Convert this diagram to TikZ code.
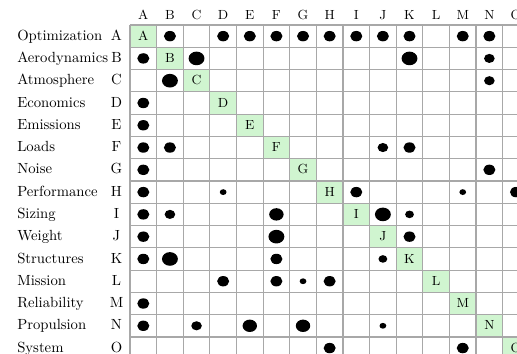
\documentclass[tikz,border=0pt]{standalone}

\definecolor{diagfill}{RGB}{208,245,208}
\definecolor{gridgray}{RGB}{168,168,168}

\tikzset{
  gridline/.style={draw=gridgray, line width=0.8pt},
  rowname/.style={anchor=west, inner sep=0pt, text height=1.6ex, text depth=0.3ex},
  rowletter/.style={inner sep=0pt, text height=1.6ex, text depth=0.3ex},
  colletter/.style={font=\small, inner sep=0pt, text height=1.6ex, text depth=0.3ex},
  diagletter/.style={font=\small, inner sep=0pt, text height=1.6ex, text depth=0.3ex},
}

\begin{document}
\begin{tikzpicture}[x={(0.6362cm,0cm)}, y={(0cm,-0.5325cm)}]

\useasboundingbox (-4.8835,-1.1221) rectangle (14.538,14.766);
\clip (-4.8835,-1.1221) rectangle (14.538,14.766);

% Diagonal cells
\foreach \i in {0,...,14}
{
\fill[diagfill] (\i,\i) rectangle (\i+1,\i+1);
}

% Grid
\foreach \i in {0,...,15}
{
\draw[gridline] (\i,0) -- (\i,15);
\draw[gridline] (0,\i) -- (15,\i);
}

% Labels
\foreach \l/\name [count=\i from 0] in {
A/Optimization,B/Aerodynamics,C/Atmosphere,D/Economics,E/Emissions,
F/Loads,G/Noise,H/Performance,I/Sizing,J/Weight,K/Structures,
L/Mission,M/Reliability,N/Propulsion,O/System
}
{
\node[colletter] (col\l) at (\i+0.5,-0.45) {\l};
\node[rowname] (name\l) at (-4.245,\i+0.5) {\name};
\node[rowletter] (row\l) at (-0.507,\i+0.5) {\l};
\node[diagletter] (diag\l) at (\i+0.5,\i+0.5) {\l};
}

% Dependencies (row/column/radius in pt)
\foreach \r/\c/\s in {
0/1/4.1,0/3/4.1,0/4/4.1,0/5/4.1,0/6/4.1,0/7/4.1,0/8/4.1,0/9/4.1,0/10/4.1,0/12/4.1,0/13/4.1,
1/0/4.1,1/2/5.4,1/10/5.4,1/13/3.6,
2/1/5.4,2/13/3.6,
3/0/4.1,
4/0/4.1,
5/0/4.1,5/1/4.1,5/9/3.6,5/10/4.1,
6/0/4.1,6/13/4.1,
7/0/4.1,7/3/2.3,7/8/4.1,7/12/2.3,7/14/4.1,
8/0/4.1,8/1/3.6,8/5/4.9,8/9/5.4,8/10/3.0,
9/0/4.1,9/5/5.4,9/10/4.1,
10/0/4.1,10/1/5.4,10/5/4.1,10/9/3.0,
11/3/4.1,11/5/4.1,11/6/2.3,11/7/4.1,
12/0/4.1,
13/0/4.1,13/2/3.6,13/4/4.9,13/6/4.9,13/9/2.3,
14/7/4.1,14/12/4.1
}
{
\pgfmathsetmacro\ry{0.86*\s}
\fill (\c+0.5,\r+0.5) ellipse [x radius=\s pt, y radius=\ry pt];
}

\end{tikzpicture}
\end{document}
